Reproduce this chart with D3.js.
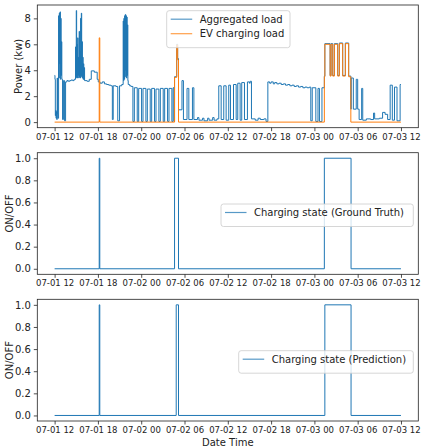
<!DOCTYPE html>
<html>
<head>
<meta charset="utf-8">
<script src="https://cdn.jsdelivr.net/npm/d3@7"></script>
<style>
  body { margin: 0; background: #fff; }
  svg { display: block; font-family: "DejaVu Sans", sans-serif; }
</style>
</head>
<body>
<div id="chart"></div>
<script>
// data: [hours since 07-01 12:00, value], step series
const startTime = new Date(2019, 6, 1, 12, 0);
const spanHours = 48;

const aggLoad = [
  [0.00,3.6],[0.05,3.3],[0.10,0.5],[0.15,0.9],[0.20,0.3],[0.25,0.8],[0.30,0.2],[0.35,3.4],[0.40,0.6],[0.45,0.3],
  [0.55,8.2],[0.60,3.4],[0.65,8.4],[0.70,4.5],[0.75,8.5],[0.80,3.3],[0.85,8.0],[0.90,3.6],[0.95,6.2],[1.00,3.3],
  [1.10,0.2],[1.22,3.2],[1.38,0.1],[1.52,3.1],[1.70,3.2],[1.90,3.15],[2.10,3.2],[2.30,3.25],[2.50,3.2],[2.70,3.3],
  [2.90,5.8],[2.95,3.4],[3.00,8.6],[3.05,3.5],[3.10,6.0],[3.15,3.4],[3.20,6.5],[3.25,3.6],[3.30,5.0],[3.35,3.4],
  [3.40,7.0],[3.45,3.5],[3.50,5.5],[3.55,3.4],[3.60,8.0],[3.65,3.6],[3.70,8.4],[3.75,3.5],[3.80,6.2],[3.85,3.4],
  [3.90,5.0],[3.95,3.3],[4.00,4.5],[4.05,3.3],[4.10,4.2],[4.15,3.2],
  [4.50,3.15],[4.80,3.3],[5.08,3.95],[5.50,3.85],[5.90,3.3],[6.05,3.1],[6.30,3.0],[6.60,3.1],[6.90,2.95],[7.20,2.9],
  [7.50,2.85],[7.80,2.8],[8.00,0.2],[8.12,2.8],[8.50,2.75],[8.75,0.1],[9.00,2.8],[9.30,2.9],
  [9.50,7.8],[9.55,3.2],[9.60,8.0],[9.65,3.3],[9.70,8.2],[9.75,3.5],[9.80,8.3],[9.85,4.0],[9.90,8.2],[9.95,3.4],
  [10.00,8.1],[10.05,3.6],[10.10,7.5],[10.15,3.2],[10.20,2.9],[10.40,2.8],[10.60,2.75],
  [10.85,0.05],[11.05,2.65],[11.45,0.05],[11.65,2.6],[12.05,0.05],[12.25,2.6],[12.65,0.05],[12.85,2.55],
  [13.25,0.05],[13.45,2.6],[13.85,0.05],[14.05,2.55],[14.45,0.05],[14.65,2.6],[15.05,0.05],[15.25,2.6],
  [15.65,0.05],[15.85,2.6],[16.25,0.05],[16.42,2.65],[16.55,0.05],
  [16.62,3.5],[16.92,6.0],[17.05,4.9],[17.17,0.95],[17.65,3.2],[17.85,0.2],[18.35,2.6],[18.60,0.2],[19.10,2.65],[19.30,0.2],
  [19.80,0.35],[20.00,0.15],[20.50,0.3],[20.70,0.1],[21.20,0.3],[21.40,0.15],[21.90,0.35],[22.10,0.15],[22.50,0.25],
  [22.75,2.8],[23.08,0.2],[23.44,2.8],[23.77,0.15],[24.13,2.85],[24.37,0.2],[24.79,2.9],[25.16,0.2],[25.38,3.0],
  [25.71,0.15],[25.93,3.05],[26.31,0.2],[26.72,3.1],[27.00,3.0],[27.10,3.15],[27.28,0.25],
  [27.80,0.15],[28.20,0.3],[28.50,0.2],[29.00,0.25],[29.30,0.05],
  [29.55,3.1],[29.80,3.0],[30.00,3.1],[30.30,2.95],[30.50,3.05],[30.80,2.95],[31.10,3.0],[31.40,2.9],[31.70,2.95],
  [32.00,2.85],[32.30,2.9],[32.60,2.8],[32.90,2.85],[33.20,2.75],[33.50,2.8],[33.80,2.7],[34.10,2.75],[34.40,2.65],
  [34.70,2.7],[35.00,2.65],[35.30,2.7],
  [35.50,0.1],[35.70,2.65],[36.20,0.05],[36.50,2.6],[36.70,0.05],[37.05,2.65],
  [37.38,3.55],[37.45,6.05],[38.18,3.6],[38.31,6.05],[38.54,3.6],[38.77,6.05],[39.23,3.6],[39.46,6.1],[39.92,3.6],
  [40.29,6.1],[40.75,3.55],
  [41.05,1.0],[41.10,3.4],[41.40,1.0],[41.80,3.3],[42.00,1.0],[42.20,0.2],[42.55,2.6],[42.70,0.15],
  [43.20,0.25],[43.80,0.2],[44.20,0.7],[44.35,0.25],[45.00,0.3],[45.45,0.75],[45.80,0.6],[46.15,0.2],
  [46.50,2.85],[46.80,0.15],[47.10,2.7],[47.45,0.1],[47.88,2.9],[48.00,2.9]
];

const evLoad = [
  [0,0],[6.18,6.5],[6.26,0],[16.62,3.45],[16.92,5.95],[17.05,4.8],[17.17,0],
  [37.38,3.5],[37.45,6.0],[38.18,3.55],[38.31,6.0],[38.54,3.55],[38.77,6.0],[39.23,3.55],[39.46,6.05],
  [39.92,3.55],[40.29,6.05],[40.75,3.5],[41.05,0],[48,0]
];

const truthState = [[0,0],[6.18,1],[6.26,0],[16.62,1],[17.17,0],[37.38,1],[41.08,0],[48,0]];
const predState  = [[0,0],[6.18,1],[6.26,0],[16.85,1],[17.17,0],[37.45,1],[41.08,0],[48,0]];

const powerTicks = [0, 2, 4, 6, 8];
const stateTicks = [0, 0.2, 0.4, 0.6, 0.8, 1.0];

const blue = "#1f77b4", orange = "#ff7f0e";

const width = 421, height = 446;
const left = 37.3, right = 418.3;

const svg = d3.select("#chart").append("svg")
  .attr("width", width).attr("height", height);

const toTime = h => new Date(startTime.getTime() + h * 3600e3);
const pad = spanHours * 0.05;
const x = d3.scaleTime()
  .domain([toTime(-pad), toTime(spanHours + pad)])
  .range([left, right]);

function panel(top, bottom, yDomain, yTicks, yFmt, ylabel, ylabelX, series, legend) {
  const y = d3.scaleLinear().domain(yDomain).range([bottom, top]);
  const g = svg.append("g");

  const clipId = "clip" + Math.round(top);
  svg.append("clipPath").attr("id", clipId)
    .append("rect").attr("x", left).attr("y", top)
    .attr("width", right - left).attr("height", bottom - top);

  const line = d3.line()
    .x(d => x(toTime(d[0])))
    .y(d => y(d[1]))
    .curve(d3.curveStepAfter);

  series.forEach(s => {
    g.append("path")
      .datum(s.data)
      .attr("clip-path", `url(#${clipId})`)
      .attr("fill", "none")
      .attr("stroke", s.color)
      .attr("stroke-width", 1)
      .attr("d", line);
  });

  // axes
  const xAxis = d3.axisBottom(x)
    .ticks(d3.timeHour.every(6))
    .tickFormat(d3.timeFormat("%m-%d %H"))
    .tickSize(3.5).tickPadding(2.5).tickSizeOuter(0);
  const gx = g.append("g").attr("transform", `translate(0,${bottom})`).call(xAxis);
  gx.select(".domain").remove();
  gx.selectAll("text").attr("font-size", 8.5).attr("fill", "#222").attr("font-family", "DejaVu Sans");
  gx.selectAll("line").attr("stroke", "#222").attr("stroke-width", 0.8);

  const yAxis = d3.axisLeft(y).tickValues(yTicks).tickFormat(yFmt)
    .tickSize(3.5).tickPadding(3).tickSizeOuter(0);
  const gy = g.append("g").attr("transform", `translate(${left},0)`).call(yAxis);
  gy.select(".domain").remove();
  gy.selectAll("text").attr("font-size", 10).attr("fill", "#222").attr("font-family", "DejaVu Sans");
  gy.selectAll("line").attr("stroke", "#222").attr("stroke-width", 0.8);

  g.append("rect")
    .attr("x", left).attr("y", top)
    .attr("width", right - left).attr("height", bottom - top)
    .attr("fill", "none").attr("stroke", "#222").attr("stroke-width", 0.8);

  g.append("text")
    .attr("transform", `translate(${ylabelX},${(top + bottom) / 2}) rotate(-90)`)
    .attr("text-anchor", "middle").attr("dominant-baseline", "central")
    .attr("font-size", 10).attr("fill", "#222")
    .text(ylabel);

  // legend
  const lg = g.append("g");
  lg.append("rect")
    .attr("x", legend.x).attr("y", legend.y)
    .attr("width", legend.w).attr("height", 8 + series.length * 14.5)
    .attr("rx", 2.5)
    .attr("fill", "#fff").attr("fill-opacity", 0.8)
    .attr("stroke", "#ccc").attr("stroke-width", 0.8);
  series.forEach((s, i) => {
    const cy = legend.y + 8.5 + i * 14.5;
    lg.append("line")
      .attr("x1", legend.x + 4).attr("x2", legend.x + 25.5)
      .attr("y1", cy).attr("y2", cy)
      .attr("stroke", s.color).attr("stroke-width", 1.2).attr("stroke-opacity", 0.75);
    lg.append("text")
      .attr("x", legend.x + 33).attr("y", cy)
      .attr("dominant-baseline", "central")
      .attr("font-size", 10).attr("fill", "#222")
      .text(s.name);
  });
  return g;
}

const fmt1 = d3.format(".1f");

panel(5, 127.7, [-0.43, 9.03], powerTicks, d3.format("d"), "Power (kw)", 18,
  [{name: "Aggregated load", data: aggLoad, color: blue},
   {name: "EV charging load", data: evLoad, color: orange}],
  {x: 166.7, y: 10.7, w: 123.3});

panel(152.7, 274.3, [-0.05, 1.05], stateTicks, fmt1, "ON/OFF", 9,
  [{name: "Charging state (Ground Truth)", data: truthState, color: blue}],
  {x: 221, y: 204, w: 192.3});

panel(299.3, 421, [-0.05, 1.05], stateTicks, fmt1, "ON/OFF", 9,
  [{name: "Charging state (Prediction)", data: predState, color: blue}],
  {x: 238.7, y: 350.7, w: 174.6});

svg.append("text")
  .attr("x", (left + right) / 2).attr("y", 442)
  .attr("text-anchor", "middle").attr("dominant-baseline", "central")
  .attr("font-size", 10).attr("fill", "#222")
  .text("Date Time");
</script>
</body>
</html>
